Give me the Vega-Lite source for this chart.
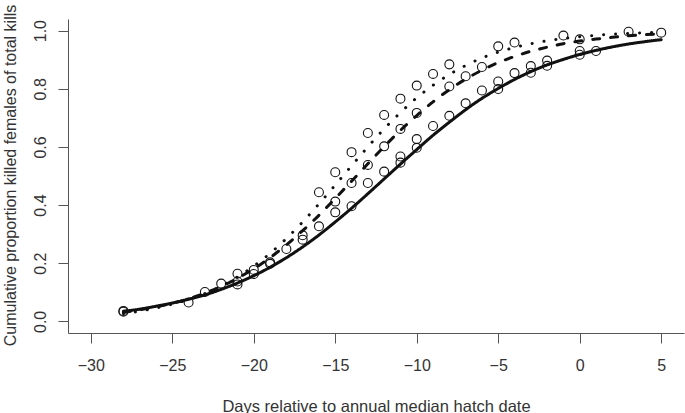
{
  "$schema": "https://vega.github.io/schema/vega-lite/v6.json",
  "width": 616,
  "height": 314,
  "autosize": {"type": "none"},
  "padding": {"left": 68, "top": 19, "right": 1, "bottom": 80},
  "background": "white",
  "config": {"view": {"stroke": null}, "font": "Liberation Sans"},
  "datasets": {
    "curves": [
      {"fit": "A", "day": -28, "p": 0.035}, {"fit": "A", "day": -27, "p": 0.042}, {"fit": "A", "day": -26, "p": 0.052}, {"fit": "A", "day": -25, "p": 0.063},
      {"fit": "A", "day": -24, "p": 0.076}, {"fit": "A", "day": -23, "p": 0.091}, {"fit": "A", "day": -22, "p": 0.110}, {"fit": "A", "day": -21, "p": 0.132},
      {"fit": "A", "day": -20, "p": 0.157}, {"fit": "A", "day": -19, "p": 0.186}, {"fit": "A", "day": -18, "p": 0.219}, {"fit": "A", "day": -17, "p": 0.256},
      {"fit": "A", "day": -16, "p": 0.297}, {"fit": "A", "day": -15, "p": 0.342}, {"fit": "A", "day": -14, "p": 0.389}, {"fit": "A", "day": -13, "p": 0.439},
      {"fit": "A", "day": -12, "p": 0.490}, {"fit": "A", "day": -11, "p": 0.541}, {"fit": "A", "day": -10, "p": 0.591}, {"fit": "A", "day": -9, "p": 0.640},
      {"fit": "A", "day": -8, "p": 0.685}, {"fit": "A", "day": -7, "p": 0.728}, {"fit": "A", "day": -6, "p": 0.767}, {"fit": "A", "day": -5, "p": 0.801},
      {"fit": "A", "day": -4, "p": 0.832}, {"fit": "A", "day": -3, "p": 0.859}, {"fit": "A", "day": -2, "p": 0.882}, {"fit": "A", "day": -1, "p": 0.901},
      {"fit": "A", "day": 0, "p": 0.918}, {"fit": "A", "day": 1, "p": 0.932}, {"fit": "A", "day": 2, "p": 0.944}, {"fit": "A", "day": 3, "p": 0.954},
      {"fit": "A", "day": 4, "p": 0.962}, {"fit": "A", "day": 5, "p": 0.969},
      {"fit": "B", "day": -28, "p": 0.031}, {"fit": "B", "day": -27, "p": 0.040}, {"fit": "B", "day": -26, "p": 0.050}, {"fit": "B", "day": -25, "p": 0.062},
      {"fit": "B", "day": -24, "p": 0.078}, {"fit": "B", "day": -23, "p": 0.097}, {"fit": "B", "day": -22, "p": 0.120}, {"fit": "B", "day": -21, "p": 0.148},
      {"fit": "B", "day": -20, "p": 0.181}, {"fit": "B", "day": -19, "p": 0.219}, {"fit": "B", "day": -18, "p": 0.263}, {"fit": "B", "day": -17, "p": 0.312},
      {"fit": "B", "day": -16, "p": 0.365}, {"fit": "B", "day": -15, "p": 0.423}, {"fit": "B", "day": -14, "p": 0.482}, {"fit": "B", "day": -13, "p": 0.542},
      {"fit": "B", "day": -12, "p": 0.601}, {"fit": "B", "day": -11, "p": 0.657}, {"fit": "B", "day": -10, "p": 0.708}, {"fit": "B", "day": -9, "p": 0.755},
      {"fit": "B", "day": -8, "p": 0.797}, {"fit": "B", "day": -7, "p": 0.833}, {"fit": "B", "day": -6, "p": 0.864}, {"fit": "B", "day": -5, "p": 0.890},
      {"fit": "B", "day": -4, "p": 0.911}, {"fit": "B", "day": -3, "p": 0.929}, {"fit": "B", "day": -2, "p": 0.943}, {"fit": "B", "day": -1, "p": 0.955},
      {"fit": "B", "day": 0, "p": 0.964}, {"fit": "B", "day": 1, "p": 0.971}, {"fit": "B", "day": 2, "p": 0.977}, {"fit": "B", "day": 3, "p": 0.982},
      {"fit": "B", "day": 4, "p": 0.986}, {"fit": "B", "day": 5, "p": 0.989},
      {"fit": "C", "day": -28, "p": 0.027}, {"fit": "C", "day": -27, "p": 0.035}, {"fit": "C", "day": -26, "p": 0.046}, {"fit": "C", "day": -25, "p": 0.059},
      {"fit": "C", "day": -24, "p": 0.075}, {"fit": "C", "day": -23, "p": 0.096}, {"fit": "C", "day": -22, "p": 0.121}, {"fit": "C", "day": -21, "p": 0.153},
      {"fit": "C", "day": -20, "p": 0.190}, {"fit": "C", "day": -19, "p": 0.234}, {"fit": "C", "day": -18, "p": 0.285}, {"fit": "C", "day": -17, "p": 0.342},
      {"fit": "C", "day": -16, "p": 0.404}, {"fit": "C", "day": -15, "p": 0.469}, {"fit": "C", "day": -14, "p": 0.535}, {"fit": "C", "day": -13, "p": 0.600},
      {"fit": "C", "day": -12, "p": 0.662}, {"fit": "C", "day": -11, "p": 0.718}, {"fit": "C", "day": -10, "p": 0.769}, {"fit": "C", "day": -9, "p": 0.812},
      {"fit": "C", "day": -8, "p": 0.849}, {"fit": "C", "day": -7, "p": 0.880}, {"fit": "C", "day": -6, "p": 0.906}, {"fit": "C", "day": -5, "p": 0.926},
      {"fit": "C", "day": -4, "p": 0.942}, {"fit": "C", "day": -3, "p": 0.955}, {"fit": "C", "day": -2, "p": 0.965}, {"fit": "C", "day": -1, "p": 0.973},
      {"fit": "C", "day": 0, "p": 0.979}, {"fit": "C", "day": 1, "p": 0.984}, {"fit": "C", "day": 2, "p": 0.988}, {"fit": "C", "day": 3, "p": 0.990},
      {"fit": "C", "day": 4, "p": 0.993}, {"fit": "C", "day": 5, "p": 0.994}
    ],
    "points": [
      {"day": -28, "p": 0.036}, {"day": -28, "p": 0.033},
      {"day": -24, "p": 0.065}, {"day": -23, "p": 0.101}, {"day": -22, "p": 0.130},
      {"day": -21, "p": 0.164}, {"day": -21, "p": 0.137}, {"day": -21, "p": 0.127},
      {"day": -20, "p": 0.177}, {"day": -20, "p": 0.163},
      {"day": -19, "p": 0.203}, {"day": -19, "p": 0.198},
      {"day": -18, "p": 0.249},
      {"day": -17, "p": 0.296}, {"day": -17, "p": 0.281},
      {"day": -16, "p": 0.327}, {"day": -16, "p": 0.444},
      {"day": -15, "p": 0.375}, {"day": -15, "p": 0.412}, {"day": -15, "p": 0.513},
      {"day": -14, "p": 0.396}, {"day": -14, "p": 0.476}, {"day": -14, "p": 0.582},
      {"day": -13, "p": 0.476}, {"day": -13, "p": 0.538}, {"day": -13, "p": 0.648},
      {"day": -12, "p": 0.515}, {"day": -12, "p": 0.602}, {"day": -12, "p": 0.710},
      {"day": -11, "p": 0.546}, {"day": -11, "p": 0.567}, {"day": -11, "p": 0.662}, {"day": -11, "p": 0.766},
      {"day": -10, "p": 0.597}, {"day": -10, "p": 0.627}, {"day": -10, "p": 0.717}, {"day": -10, "p": 0.811},
      {"day": -9, "p": 0.672}, {"day": -9, "p": 0.851},
      {"day": -8, "p": 0.707}, {"day": -8, "p": 0.808}, {"day": -8, "p": 0.884},
      {"day": -7, "p": 0.750}, {"day": -7, "p": 0.843},
      {"day": -6, "p": 0.794}, {"day": -6, "p": 0.875},
      {"day": -5, "p": 0.799}, {"day": -5, "p": 0.825}, {"day": -5, "p": 0.946},
      {"day": -4, "p": 0.854}, {"day": -4, "p": 0.959},
      {"day": -3, "p": 0.855}, {"day": -3, "p": 0.878},
      {"day": -2, "p": 0.879}, {"day": -2, "p": 0.897},
      {"day": -1, "p": 0.983},
      {"day": 0, "p": 0.917}, {"day": 0, "p": 0.930}, {"day": 0, "p": 0.970},
      {"day": 1, "p": 0.930},
      {"day": 3, "p": 0.996},
      {"day": 5, "p": 0.993}
    ]
  },
  "encoding": {
    "x": {
      "field": "day", "type": "quantitative",
      "scale": {"domain": [-31.4, 6.4], "nice": false, "zero": false},
      "axis": {
        "title": "Days relative to annual median hatch date",
        "values": [-30, -25, -20, -15, -10, -5, 0, 5],
        "grid": false, "tickSize": 10, "labelPadding": 14,
        "labelFontSize": 16, "labelColor": "#333", "labelFont": "Liberation Sans",
        "domainColor": "#555", "tickColor": "#555",
        "titleFontSize": 16.5, "titleFontWeight": "normal", "titleColor": "#333", "titleFont": "Liberation Sans",
        "titleBaseline": "alphabetic", "titleAlign": "center", "titleX": 308, "titleY": 78
      }
    },
    "y": {
      "field": "p", "type": "quantitative",
      "scale": {"domain": [-0.04, 1.04], "nice": false, "zero": false},
      "axis": {
        "title": "Cumulative proportion killed females of total kills",
        "values": [0, 0.2, 0.4, 0.6, 0.8, 1.0], "format": ".1f",
        "grid": false, "tickSize": 10, "labelPadding": 13,
        "labelAngle": -90, "labelAlign": "center", "labelBaseline": "alphabetic",
        "labelFontSize": 16, "labelColor": "#333", "labelFont": "Liberation Sans",
        "domainColor": "#555", "tickColor": "#555",
        "titleFontSize": 16, "titleFontWeight": "normal", "titleColor": "#333", "titleFont": "Liberation Sans",
        "titleAngle": -90, "titleBaseline": "alphabetic", "titleAlign": "center", "titleX": -53, "titleY": 156
      }
    }
  },
  "layer": [
    {
      "data": {"name": "curves"},
      "mark": {"type": "line", "interpolate": "monotone", "strokeWidth": 3, "strokeCap": "round", "color": "#111"},
      "encoding": {
        "detail": {"field": "fit", "type": "nominal"},
        "strokeDash": {
          "field": "fit", "type": "nominal",
          "scale": {"domain": ["A", "B", "C"], "range": [[1, 0], [7, 11], [0.1, 11.9]]},
          "legend": null
        }
      }
    },
    {
      "data": {"name": "points"},
      "mark": {"type": "point", "shape": "circle", "filled": false, "size": 80, "strokeWidth": 1.1, "color": "#111", "opacity": 1},
      "encoding": {}
    }
  ]
}
